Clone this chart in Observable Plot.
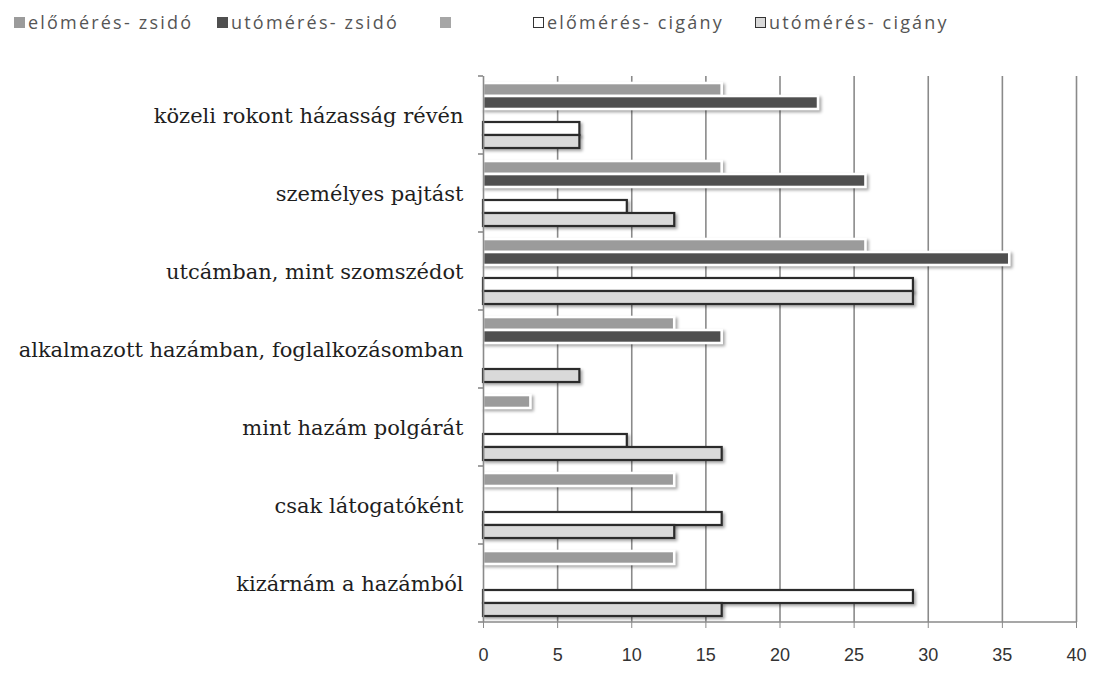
<!DOCTYPE html>
<html>
<head>
<meta charset="utf-8">
<script src="https://cdn.jsdelivr.net/npm/d3@7"></script>
<script src="https://cdn.jsdelivr.net/npm/@observablehq/plot@0.6"></script>
<style>
  body { margin: 0; background: #fff; }
  #wrap { position: relative; width: 1096px; height: 681px; overflow: hidden; }
  #legend { position: absolute; top: 9px; left: 0; height: 26px; font-family: "Open Sans", sans-serif; font-size: 18px; color: #555; letter-spacing: 2.2px; }
  .item { position: absolute; top: 0; display: flex; align-items: center; height: 26px; white-space: nowrap; }
  .sw { width: 11px; height: 11px; margin-right: 3px; box-sizing: border-box; }
  #chart { position: absolute; top: 0; left: 0; }
  g[aria-label="bar"] rect { filter: drop-shadow(2px 2px 1.5px rgba(0,0,0,0.35)); }
</style>
</head>
<body>
<div id="wrap">
  <div id="legend"></div>
  <div id="chart"></div>
</div>
<script>
const categories = [
  "közeli rokont házasság révén",
  "személyes pajtást",
  "utcámban, mint szomszédot",
  "alkalmazott hazámban, foglalkozásomban",
  "mint hazám polgárát",
  "csak látogatóként",
  "kizárnám a hazámból"
];
const seriesNames = ["előmérés- zsidó", "utómérés- zsidó", "", "előmérés- cigány", "utómérés- cigány"];
const eloZsido  = [16.1, 16.1, 25.8, 12.9, 3.2, 12.9, 12.9];
const utoZsido  = [22.6, 25.8, 35.5, 16.1, 0, 0, 0];
const ures      = [0, 0, 0, 0, 0, 0, 0];
const eloCigany = [6.5, 9.7, 29.0, 0, 9.7, 16.1, 29.0];
const utoCigany = [6.5, 12.9, 29.0, 6.5, 16.1, 12.9, 16.1];
const xTicks = [0, 5, 10, 15, 20, 25, 30, 35, 40];

const seriesValues = [eloZsido, utoZsido, ures, eloCigany, utoCigany];
const fills   = ["#9b9b9b", "#4f4f4f", "#a6a6a6", "#ffffff", "#d9d9d9"];
const strokes = ["#ffffff", "#ffffff", "none", "#2b2b2b", "#2b2b2b"];
const strokeWidths = [2.6, 2.6, 0, 2.2, 2.2];
const seriesKeys = seriesNames.map((n, i) => "s" + i);

const rows = categories.flatMap((c, ci) =>
  seriesKeys.map((k, si) => ({category: c, series: k, si, value: seriesValues[si][ci]}))
);

// legend
const legendLefts = [14, 217, 440, 533, 755];
const legendBorders = ["none", "none", "none", "1.5px solid #333", "1.5px solid #333"];
const leg = document.getElementById("legend");
seriesNames.forEach((n, i) => {
  const it = document.createElement("div");
  it.className = "item";
  it.style.left = legendLefts[i] + "px";
  const sw = document.createElement("span");
  sw.className = "sw";
  sw.style.background = fills[i];
  sw.style.border = legendBorders[i];
  it.appendChild(sw);
  const t = document.createElement("span");
  t.textContent = n;
  it.appendChild(t);
  leg.appendChild(it);
});

const chart = Plot.plot({
  width: 1096,
  height: 681,
  marginTop: 73,
  marginBottom: 57,
  marginLeft: 483,
  marginRight: 20,
  style: {fontFamily: "Liberation Sans, sans-serif", background: "transparent"},
  x: {domain: [0, 40]},
  y: {domain: seriesKeys, paddingInner: 0, paddingOuter: 0.5, axis: null},
  fy: {domain: categories, padding: 0, label: null},
  marks: [
    Plot.gridX(xTicks.filter(t => t > 0), {stroke: "#8a8a8a", strokeOpacity: 1, strokeWidth: 1.6}),
    Plot.barX(rows, {
      filter: d => d.value > 0,
      x: "value", y: "series", fy: "category",
      fill: d => fills[d.si],
      stroke: d => strokes[d.si],
      strokeWidth: d => strokeWidths[d.si]
    }),
    Plot.ruleX([0], {stroke: "#8a8a8a", strokeWidth: 1.6}),
    Plot.axisX({ticks: xTicks, tickSize: 6, tickPadding: 20, fontSize: 18, color: "#333", stroke: "#8a8a8a", label: null}),
    Plot.axisFy({anchor: "left", tickSize: 0, tickPadding: 20, fontSize: 21, fontFamily: "DejaVu Serif, serif", color: "#1e1e1e", label: null, dy: 1})
  ]
});
document.getElementById("chart").appendChild(chart);

// axis line and band boundary ticks derived from the chart's scales
const svg = d3.select(chart);
const fy = chart.scale("fy");
const xs = chart.scale("x");
const x0 = xs.apply(0), x40 = xs.apply(40);
const bounds = categories.map(c => fy.apply(c));
bounds.push(fy.apply(categories[categories.length - 1]) + fy.bandwidth);
const g = svg.append("g").attr("stroke", "#8a8a8a").attr("stroke-width", 1.6);
const yBottom = bounds[bounds.length - 1];
g.append("line").attr("x1", x0).attr("x2", x40).attr("y1", yBottom).attr("y2", yBottom);
bounds.forEach(b => g.append("line").attr("x1", x0 - 5).attr("x2", x0).attr("y1", b).attr("y2", b));
</script>
</body>
</html>
